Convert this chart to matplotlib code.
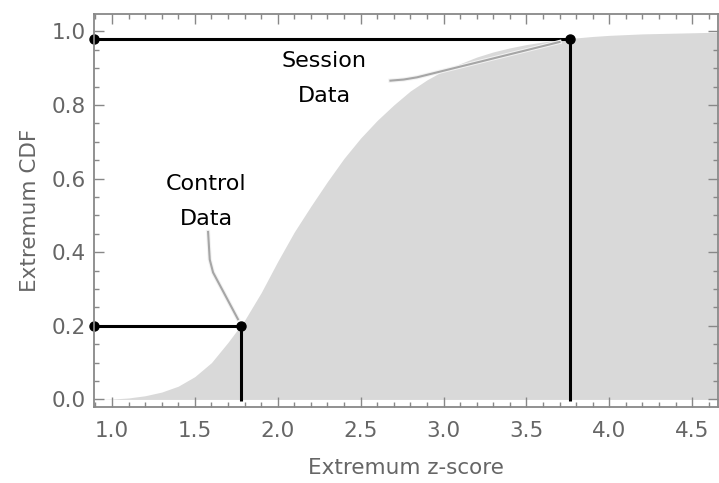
import matplotlib.pyplot as plt
import numpy as np
import matplotlib.patheffects as pe
from matplotlib.ticker import MultipleLocator

# extremum z-score grid and CDF
z = [0.9, 1.0, 1.1, 1.2, 1.3, 1.4, 1.5, 1.6, 1.7, 1.8, 1.9, 2.0, 2.1, 2.2,
     2.3, 2.4, 2.5, 2.6, 2.7, 2.8, 2.9, 3.0, 3.1, 3.2, 3.3, 3.4, 3.5, 3.6,
     3.7, 3.8, 3.9, 4.0, 4.1, 4.2, 4.3, 4.4, 4.5, 4.6, 4.65]
cdf = [0.0, 0.001, 0.004, 0.010, 0.020, 0.036, 0.062, 0.100, 0.155, 0.215,
       0.290, 0.375, 0.455, 0.525, 0.592, 0.655, 0.710, 0.758, 0.800, 0.838,
       0.868, 0.893, 0.912, 0.930, 0.944, 0.955, 0.964, 0.971, 0.977, 0.982,
       0.986, 0.989, 0.991, 0.993, 0.994, 0.995, 0.996, 0.997, 0.997]

control = (1.777, 0.20)
session = (3.76, 0.98)

xmin, xmax = 0.893, 4.653
ymin, ymax = -0.021, 1.047

gray = '#666666'
fig = plt.figure(figsize=(7.19, 4.83), dpi=100)
ax = fig.add_axes([0.131, 0.157, 0.867, 0.814])

ax.fill_between(z, 0, cdf, color='#d9d9d9', lw=0)

for px, py in [control, session]:
    ax.plot([xmin, px], [py, py], color='black', lw=2.2, solid_capstyle='butt')
    ax.plot([px, px], [py, -0.005], color='black', lw=2.2, solid_capstyle='butt')
    ax.plot([xmin, px], [py, py], 'o', color='black', ms=6.5, clip_on=False)

# leader lines
halo = [pe.withStroke(linewidth=3, foreground='#f2f2f2')]
ax.plot([1.58, 1.59, 1.61, 1.76], [0.455, 0.38, 0.345, 0.218],
        color='#a6a6a6', lw=1.5, path_effects=halo)
ax.plot([2.68, 2.76, 2.84, 3.70], [0.866, 0.869, 0.875, 0.971],
        color='#a6a6a6', lw=1.5, path_effects=halo)

fs = 16
ax.text(1.57, 0.585, 'Control', ha='center', va='center', fontsize=fs)
ax.text(1.57, 0.49, 'Data', ha='center', va='center', fontsize=fs)
ax.text(2.28, 0.92, 'Session', ha='center', va='center', fontsize=fs)
ax.text(2.28, 0.825, 'Data', ha='center', va='center', fontsize=fs)

ax.set_xlim(xmin, xmax)
ax.set_ylim(ymin, ymax)
ax.xaxis.set_minor_locator(MultipleLocator(0.1))
ax.yaxis.set_minor_locator(MultipleLocator(0.05))
ax.set_xticks(np.arange(1.0, 4.6, 0.5))
ax.set_yticks(np.arange(0.0, 1.01, 0.2))
ax.xaxis.set_major_formatter(plt.FuncFormatter(lambda v, p: f'{v:.1f}'))
ax.yaxis.set_major_formatter(plt.FuncFormatter(lambda v, p: f'{v:.1f}'))

ax.tick_params(which='both', direction='in', top=True, right=True,
               color='#888888', labelcolor=gray, labelsize=15.5)
ax.tick_params(which='major', length=7, width=1)
ax.tick_params(which='minor', length=3.5, width=1)
ax.tick_params(axis='x', pad=10)
ax.tick_params(axis='y', pad=6)
for s in ax.spines.values():
    s.set_color('#888888')
    s.set_linewidth(1.3)

ax.set_xlabel('Extremum z-score', color=gray, fontsize=15.5, labelpad=12)
ax.set_ylabel('Extremum CDF', color=gray, fontsize=15.5, labelpad=8)

fig.savefig('out.png', dpi=100)
